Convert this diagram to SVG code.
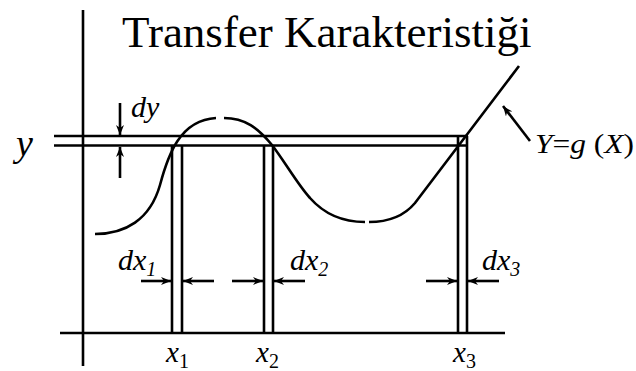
<svg xmlns="http://www.w3.org/2000/svg" width="636" height="371" viewBox="0 0 636 371">
<style>
.ln{stroke:#000;stroke-width:2.6;fill:none}
.cv{stroke:#000;stroke-width:2.6;fill:none}
.ar{stroke:#000;stroke-width:2.6;fill:none;marker-end:url(#ah)}
.t{font-family:"Liberation Serif","Times New Roman",serif;fill:#000}
.i{font-style:italic}
</style>
<defs>
<marker id="ah" viewBox="0 0 10 8" refX="10" refY="4" markerWidth="10" markerHeight="8" markerUnits="userSpaceOnUse" orient="auto">
<path d="M0,0 L10,4 L0,8 L3,4 Z" fill="#000"/>
</marker>
</defs>
<rect width="636" height="371" fill="#fff"/>
<g id="axes">
<line class="ln" x1="83" y1="10" x2="83" y2="366"/>
<line class="ln" x1="60" y1="333" x2="505" y2="333"/>
</g>
<g id="y-band">
<line class="ln" x1="54" y1="136" x2="468" y2="136"/>
<line class="ln" x1="54" y1="145.5" x2="468" y2="145.5"/>
</g>
<g id="x-bands">
<line class="ln" x1="172" y1="145.5" x2="172" y2="333"/>
<line class="ln" x1="182" y1="145.5" x2="182" y2="333"/>
<line class="ln" x1="264" y1="145.5" x2="264" y2="333"/>
<line class="ln" x1="273" y1="145.5" x2="273" y2="333"/>
<line class="ln" x1="458" y1="136" x2="458" y2="333"/>
<line class="ln" x1="467" y1="136" x2="467" y2="333"/>
</g>
<g id="curve">
<path class="cv" d="M95,234 C125,234 150,220 160,185 C168,155 180,120 216,118"/>
<path class="cv" d="M224,118 C245,118 258,128 272,145 C285,162 298,185 310,198 C325,215 345,222 365,222"/>
<path class="cv" d="M369,222 C390,222 405,215 415,203 L519,66"/>
</g>
<g id="connectors">
<line class="ar" x1="120" y1="103" x2="120" y2="135"/>
<line class="ar" x1="120" y1="178" x2="120" y2="147"/>
<line class="ar" x1="530" y1="141" x2="503" y2="106"/>
<line class="ar" x1="141" y1="281" x2="171" y2="281"/>
<line class="ar" x1="214" y1="281" x2="183" y2="281"/>
<line class="ar" x1="232" y1="281" x2="263" y2="281"/>
<line class="ar" x1="305" y1="281" x2="274" y2="281"/>
<line class="ar" x1="426" y1="281" x2="457" y2="281"/>
<line class="ar" x1="499" y1="281" x2="468" y2="281"/>
</g>
<g id="labels">
<text class="t" x="122" y="47" font-size="45">Transfer Karakteristiği</text>
<text class="t i" x="16" y="156" font-size="38">y</text>
<text class="t i" x="131" y="117" font-size="30">dy</text>
<text class="t" x="535" y="153" font-size="28" textLength="99" lengthAdjust="spacingAndGlyphs"><tspan class="i">Y</tspan>=<tspan class="i">g</tspan> (<tspan class="i">X</tspan>)</text>
<text class="t i" x="118" y="270" font-size="30">dx<tspan font-size="20" dy="6">1</tspan></text>
<text class="t i" x="290" y="270" font-size="30">dx<tspan font-size="20" dy="6">2</tspan></text>
<text class="t i" x="482" y="270" font-size="30">dx<tspan font-size="20" dy="6">3</tspan></text>
<text class="t" x="166" y="362" font-size="29"><tspan class="i">x</tspan><tspan font-size="20" dy="6">1</tspan></text>
<text class="t" x="256" y="362" font-size="29"><tspan class="i">x</tspan><tspan font-size="20" dy="6">2</tspan></text>
<text class="t" x="453" y="362" font-size="29"><tspan class="i">x</tspan><tspan font-size="20" dy="6">3</tspan></text>
</g>
</svg>
